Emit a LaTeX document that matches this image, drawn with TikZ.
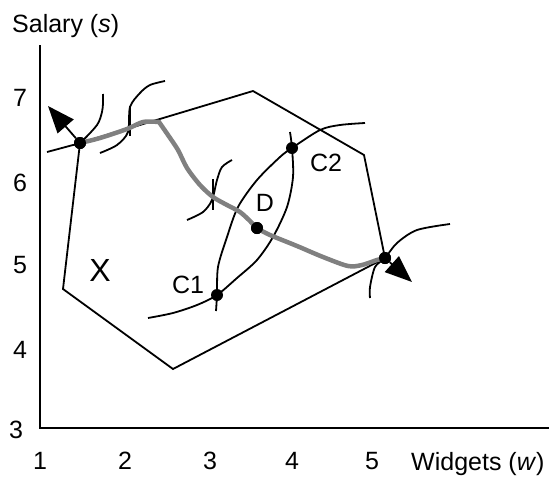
\documentclass[tikz,border=0pt]{standalone}
\usepackage{fontspec}
\setmainfont{Liberation Sans}
\usetikzlibrary{arrows.meta}

\begin{document}
\begin{tikzpicture}[x=1pt,y=-1pt,>={Triangle[length=27pt,width=21pt]},
  every node/.style={font=\fontsize{25}{30}\selectfont,inner sep=0pt},
  dot/.style={circle,fill,inner sep=0pt,minimum size=12pt},
  line/.style={line width=1.8pt},
  ridge/.style={line width=4.5pt,gray,line cap=round,line join=round}]
  \useasboundingbox (0,0) rectangle (549,477);

  % axes
  \coordinate (ytop) at (40,45);
  \coordinate (O) at (40,428);
  \coordinate (xend) at (549,428);
  \draw[line] (ytop) -- (O) -- (xend);
  \node[anchor=base west] (ylab) at (12,32) {Salary (\textit{s})};
  \node[anchor=base west] (xlab) at (411,470) {Widgets (\textit{w})};
  \foreach \n/\y in {7/98,6/183,5/265,4/350}
    \node (ys\n) at (20,\y) {\n};
  \node (ys3) at (16,430) {3};
  \foreach \n/\x in {1/40,2/125,3/210,4/292,5/372}
    \node (xs\n) at (\x,461) {\n};

  % points
  \node[dot] (A) at (80,143) {};
  \node[dot] (B) at (385,258) {};
  \node[dot] (C1) at (217,295) {};
  \node[dot] (C2) at (292,148) {};
  \node[dot] (D) at (257,228) {};
  \node (lC1) at (188,285) {C1};
  \node (lC2) at (326,163) {C2};
  \node (lD) at (265,203) {D};
  \node[font=\fontsize{32}{36}\selectfont] (X) at (100,270) {X};

  % feasible set
  \coordinate (p1) at (253,91);
  \coordinate (p2) at (364,155);
  \coordinate (p3) at (173,369);
  \coordinate (p4) at (63,289);
  \draw[line] (A.center) -- (p1) -- (p2) -- (B.center) -- (p3) -- (p4) -- cycle;

  % indifference curves
  \draw[line] plot[smooth] coordinates {(47,152) (73,145) (A.center) (97,125) (102,112) (103,103) (103,94)};
  \draw[line] plot[smooth] coordinates {(100,153) (117,145) (128,132) (130,107) (140,93) (150,85) (165,81)};
  \draw[line] (130,106) -- (130,136);
  \draw[line] plot[smooth] coordinates {(187,220) (203,212) (212,200) (217,180) (222,167) (232,160)};
  \draw[line] (213,179) -- (213,210);
  \draw[line] plot[smooth] coordinates {(216,311) (C1.center) (218,267) (227,237) (238,207) (257,180) (280,157) (C2.center) (320,130) (340,125) (365,123)};
  \draw[line] plot[smooth] coordinates {(290,132) (C2.center) (293,177) (287,207) (273,237) (257,260) (237,278) (C1.center) (197,305) (173,313) (148,318)};
  \draw[line] plot[smooth] coordinates {(370,298) (370,287) (375,267) (B.center) (397,243) (417,230) (450,224)};

  % contract path
  \draw[ridge] plot[smooth] coordinates {(A.center) (100,138) (127,129) (143,122) (159,122)};
  \draw[ridge] plot[smooth] coordinates {(159,122) (168,135) (178,150) (187,168) (200,185) (213,197) (227,205) (240,212) (250,221) (D.center) (270,235) (297,246) (323,257) (348,266) (362,265) (377,260) (B.center)};
  \node[dot] at (A) {};
  \node[dot] at (B) {};
  \node[dot] at (D) {};

  % directions
  \coordinate (aA) at (48,106);
  \coordinate (aB) at (412,282);
  \draw[line,->] (A) -- (aA);
  \draw[line,->] (B) -- (aB);
\end{tikzpicture}
\end{document}
